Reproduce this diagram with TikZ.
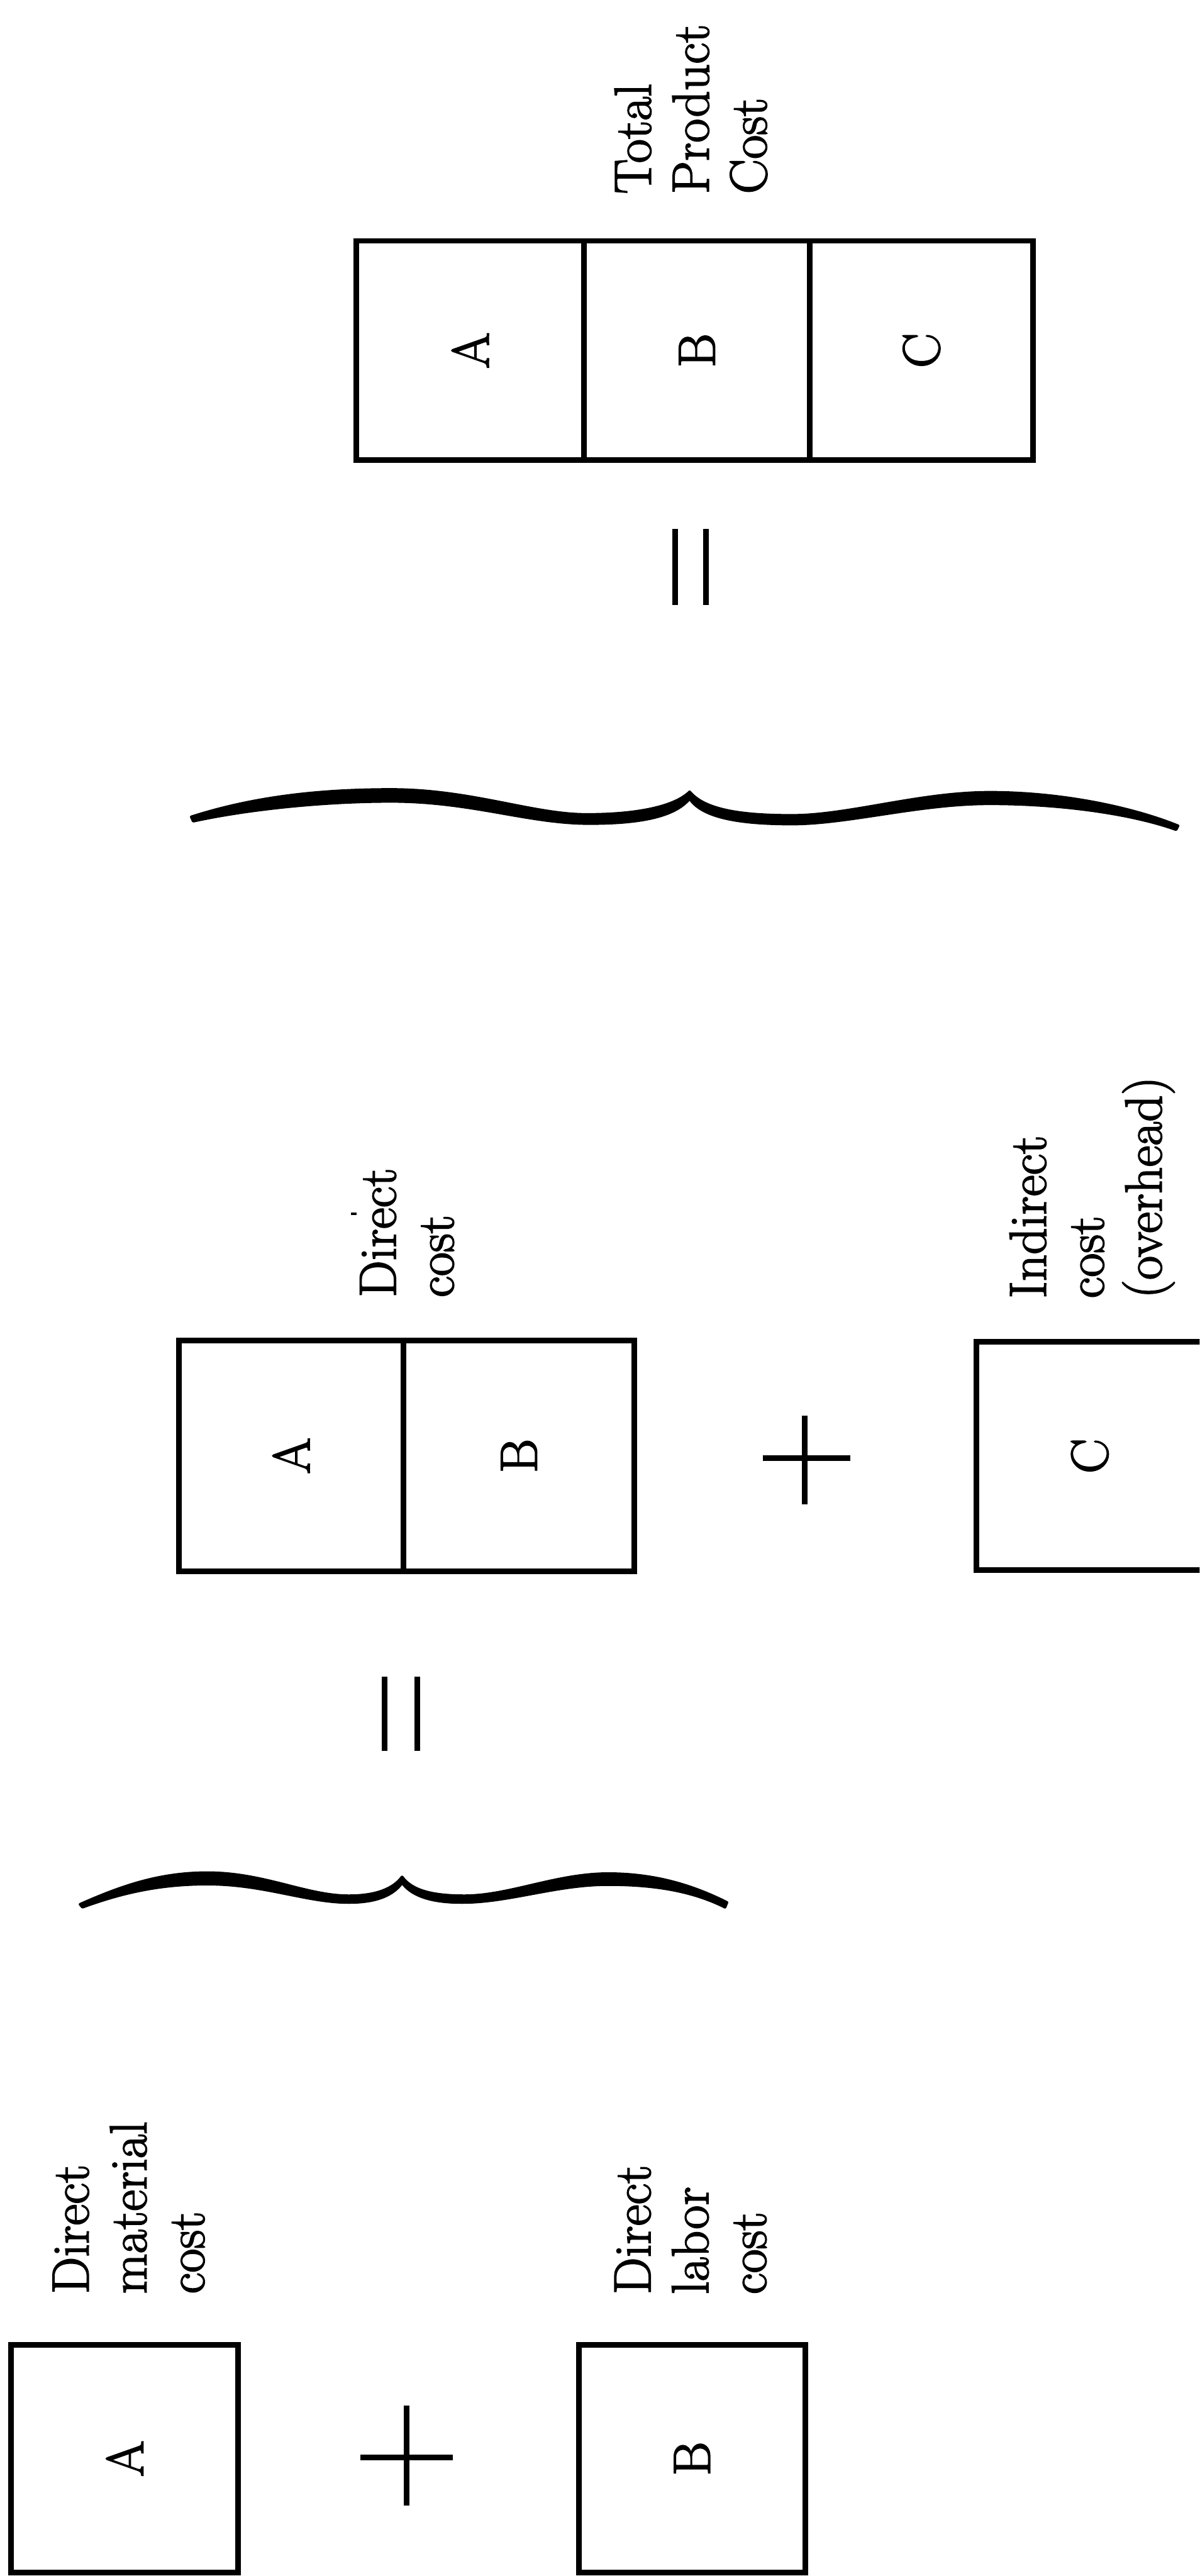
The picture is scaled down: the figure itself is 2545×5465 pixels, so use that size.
\documentclass[tikz,border=0pt]{standalone}
\usepackage{fontspec}
\setmainfont{Latin Modern Roman}[FakeBold=2.2]
\begin{document}
\begin{tikzpicture}[x=0.1mm,y=-0.1mm,
  lab/.style={rotate=90, anchor=base west, align=left, inner sep=0pt,
    font=\fontsize{31.5pt}{34.9pt}\selectfont},
  cell/.style 2 args={draw, line width=1.2mm, inner sep=0pt,
    minimum width=#1mm, minimum height=#2mm,
    font=\fontsize{31.5pt}{34.9pt}\selectfont},
  sym/.style={line width=1.2mm},
  brace/.style={fill=black, draw=black, line width=0.6mm, line join=round}]
\useasboundingbox (0,0) rectangle (2545,5465);
\clip (0,0) rectangle (2545,5465);

% ---------- top: total product cost ----------
\node[cell={48.3}{46.5}] (tA) at (997.5,743.5) {\rotatebox{90}{A}};
\node[cell={47.9}{46.5}] (tB) at (1478.5,743.5) {\rotatebox{90}{B}};
\node[cell={47.4}{46.5}] (tC) at (1955,743.5) {\rotatebox{90}{C}};
\node[lab] (tpc) at (1626,412) {Total\\Product\\Cost};

% upper equals
\draw[sym] (1432,1122) -- (1432,1283);
\draw[sym] (1497,1122) -- (1497,1283);

% upper brace
\filldraw[brace] (406,1733) .. controls (540,1690) and (680,1675) .. (830,1675)
  .. controls (1000,1675) and (1130,1728) .. (1245,1728)
  .. controls (1350,1728) and (1430,1712) .. (1463,1680)
  .. controls (1495,1718) and (1570,1730) .. (1680,1730)
  .. controls (1800,1730) and (1950,1681) .. (2100,1681)
  .. controls (2250,1681) and (2400,1712) .. (2499,1752)
  -- (2495,1760)
  .. controls (2400,1726) and (2250,1705) .. (2100,1705)
  .. controls (1950,1705) and (1800,1748) .. (1680,1748)
  .. controls (1570,1748) and (1490,1735) .. (1463,1694)
  .. controls (1430,1735) and (1350,1747) .. (1250,1747)
  .. controls (1120,1747) and (1000,1700) .. (830,1700)
  .. controls (680,1700) and (520,1718) .. (410,1742) -- cycle;

% ---------- middle: direct cost + indirect cost ----------
\node[cell={47.7}{48.9}] (dA) at (617.5,3088.5) {\rotatebox{90}{A}};
\node[cell={49.0}{48.9}] (dB) at (1101,3088.5) {\rotatebox{90}{B}};
\node[lab] (dc) at (962,2753) {Direct\\cost};
\fill (745,2572) rectangle (757,2578);

\draw[sym] (1707,3003) -- (1707,3191);
\draw[sym] (1618,3093) -- (1804,3093);

\node[cell={48.0}{48.4}] (iC) at (2312,3089) {\rotatebox{90}{C}};
\node[lab] (ic) at (2464,2755) {Indirect\\cost\\(overhead)};

% lower equals
\draw[sym] (816,3557) -- (816,3715);
\draw[sym] (885,3557) -- (885,3715);

% lower brace
\filldraw[brace] (170,4040) .. controls (260,4000) and (340,3973) .. (440,3973)
  .. controls (560,3973) and (650,4022) .. (740,4022)
  .. controls (800,4022) and (835,4006) .. (853,3982)
  .. controls (872,4008) and (910,4022) .. (985,4022)
  .. controls (1080,4022) and (1180,3975) .. (1290,3975)
  .. controls (1390,3975) and (1470,4000) .. (1542,4036)
  -- (1538,4046)
  .. controls (1470,4012) and (1390,3998) .. (1290,3998)
  .. controls (1180,3998) and (1080,4036) .. (980,4036)
  .. controls (910,4036) and (872,4020) .. (853,3994)
  .. controls (835,4020) and (800,4036) .. (740,4036)
  .. controls (650,4036) and (560,3997) .. (440,3997)
  .. controls (340,3997) and (260,4015) .. (175,4046) -- cycle;

% ---------- bottom: direct material + direct labor ----------
\node[cell={48.1}{48.4}] (mA) at (264.5,5216) {\rotatebox{90}{A}};
\node[lab] (dm) at (433,4867) {Direct\\material\\cost};
\draw[sym] (863,5103) -- (863,5315);
\draw[sym] (765,5213) -- (961,5213);
\node[cell={48.0}{48.4}] (lB) at (1468,5216) {\rotatebox{90}{B}};
\node[lab] (dl) at (1625,4868) {Direct\\labor\\cost};
\end{tikzpicture}
\end{document}
